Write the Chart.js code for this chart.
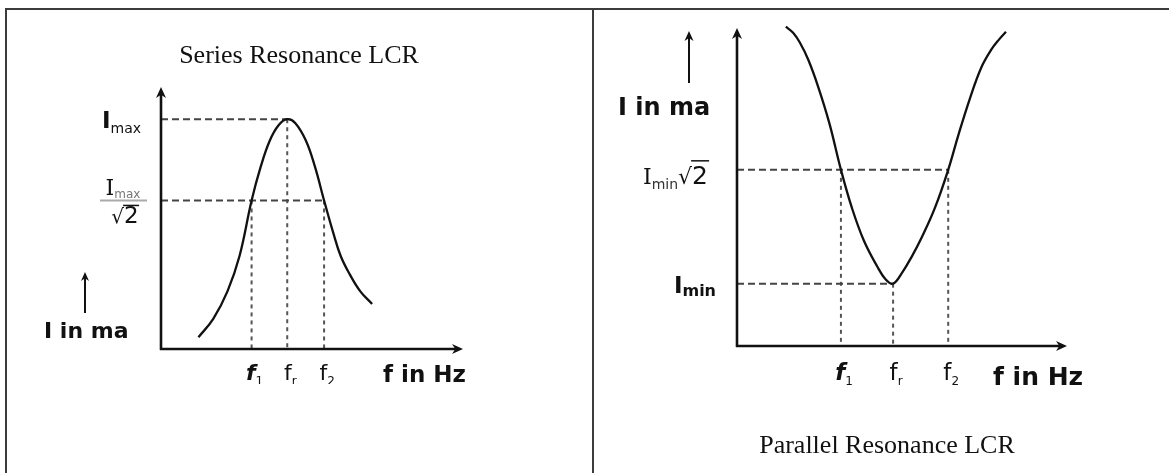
<!DOCTYPE html>
<html lang="en">
<head>
<meta charset="UTF-8">
<title>Series and Parallel Resonance LCR</title>
<script src="https://cdn.jsdelivr.net/npm/chart.js"></script>
<style>
  body { margin: 0; width: 1169px; height: 473px; overflow: hidden; background: #fff; position: relative; }
  .cell { position: absolute; top: 8px; height: 470px; border-top: 2px solid #3c3c3c; }
  #cellL { left: 5px; width: 585px; border-left: 2px solid #3c3c3c; border-right: 2px solid #3c3c3c; }
  #cellR { left: 594px; width: 600px; }
  canvas { position: absolute; top: 0; }
  #seriesChart { left: 0; }
  #parallelChart { left: 592px; }
</style>
</head>
<body>
<div class="cell" id="cellL"></div>
<div class="cell" id="cellR"></div>
<canvas id="seriesChart" width="592" height="473"></canvas>
<canvas id="parallelChart" width="577" height="473"></canvas>

<script>
// Series resonance (left) - arbitrary units, axes 0..10
const seriesFreq    = [1.24, 1.73, 2.20, 2.60, 3.00, 3.30, 3.60, 3.90, 4.18, 4.45, 4.80, 5.10, 5.40, 5.70, 5.95, 6.25, 6.60, 6.99];
const seriesCurrent = [0.45, 1.15, 2.20, 3.55, 5.67, 6.95, 7.95, 8.55, 8.77, 8.62, 7.95, 6.95, 5.67, 4.45, 3.55, 2.85, 2.20, 1.72];
const seriesTicks = [3.00, 4.18, 5.40];        // f1, fr, f2
const seriesTickSubs = ['1', 'r', '2'];
const seriesTickTops = [5.67, 8.77, 5.67];     // where each dashed drop line starts
const seriesLevels = [8.77, 5.67];             // Imax, Imax/√2
const seriesLevelReach = [4.18, 5.40];         // dashed level line runs to this frequency

// Parallel resonance (right)
const parallelFreq    = [1.48, 1.70, 1.90, 2.16, 2.46, 2.80, 3.15, 3.48, 3.85, 4.25, 4.50, 4.73, 5.00, 5.30, 5.60, 6.00, 6.40, 6.71, 7.06, 7.40, 7.70, 7.95, 8.15];
const parallelCurrent = [10.04, 9.85, 9.55, 9.00, 8.15, 7.00, 5.54, 4.35, 3.30, 2.50, 2.10, 1.96, 2.30, 2.82, 3.42, 4.35, 5.54, 6.64, 7.79, 8.75, 9.31, 9.65, 9.88];
const parallelTicks = [3.15, 4.73, 6.40];      // f1, fr, f2
const parallelTickSubs = ['1', 'r', '2'];
const parallelTickTops = [5.54, 1.96, 5.54];
const parallelLevels = [5.54, 1.96];           // Imin√2, Imin
const parallelLevelReach = [6.40, 4.73];

const INK = '#111';
const SANS = '"DejaVu Sans", Verdana, sans-serif';
const SERIF = '"Liberation Serif", "Times New Roman", serif';

function toPoints(xs, ys) {
    return xs.map((x, i) => ({ x: x, y: ys[i] }));
}

function buildDatasets(freq, current, ticks, tickTops, levels, reach) {
    const sets = [{
        data: toPoints(freq, current),
        showLine: true,
        borderColor: INK,
        borderWidth: 2.3,
        pointRadius: 0,
        tension: 0.4,
        clip: false
    }];
    levels.forEach((lv, i) => {
        sets.push({
            data: [{ x: 0, y: lv }, { x: reach[i], y: lv }],
            showLine: true, borderColor: '#444', borderWidth: 2,
            borderDash: [7, 4], pointRadius: 0
        });
    });
    ticks.forEach((f, i) => {
        sets.push({
            data: [{ x: f, y: tickTops[i] }, { x: f, y: 0 }],
            showLine: true, borderColor: '#555', borderWidth: 2,
            borderDash: [4, 4], pointRadius: 0
        });
    });
    return sets;
}

function arrow(ctx, x0, y0, x1, y1, len, half, width) {
    const a = Math.atan2(y1 - y0, x1 - x0);
    ctx.save();
    ctx.strokeStyle = INK;
    ctx.fillStyle = INK;
    ctx.lineWidth = width;
    ctx.beginPath();
    ctx.moveTo(x0, y0);
    ctx.lineTo(x1 - Math.cos(a) * len * 0.6, y1 - Math.sin(a) * len * 0.6);
    ctx.stroke();
    ctx.beginPath();
    ctx.moveTo(x1, y1);
    ctx.lineTo(x1 - Math.cos(a) * len - Math.sin(a) * half, y1 - Math.sin(a) * len + Math.cos(a) * half);
    ctx.lineTo(x1 - Math.cos(a) * len * 0.7, y1 - Math.sin(a) * len * 0.7);
    ctx.lineTo(x1 - Math.cos(a) * len + Math.sin(a) * half, y1 - Math.sin(a) * len - Math.cos(a) * half);
    ctx.closePath();
    ctx.fill();
    ctx.restore();
}

// text made of pieces (base + subscript ...), returns left x of each piece
function rich(ctx, parts, x, y, align) {
    let w = 0;
    parts.forEach(p => { ctx.font = p.font; p.w = ctx.measureText(p.t).width; w += p.w + (p.gap || 0); });
    let cx = align === 'right' ? x - w : align === 'center' ? x - w / 2 : x;
    const lefts = [];
    parts.forEach(p => {
        ctx.font = p.font;
        ctx.fillStyle = p.color || INK;
        lefts.push(cx);
        ctx.fillText(p.t, cx, y + (p.dy || 0));
        cx += p.w + (p.gap || 0);
    });
    return lefts;
}

function drawAxes(chart) {
    const ctx = chart.ctx;
    const xs = chart.scales.x, ys = chart.scales.y;
    const x0 = xs.getPixelForValue(0), y0 = ys.getPixelForValue(0);
    arrow(ctx, x0, y0 + 1, x0, ys.getPixelForValue(10), 11, 5, 2.6);
    arrow(ctx, x0 - 1, y0, xs.getPixelForValue(10), y0, 11, 5, 2.6);
}

function drawFreqLabels(chart, ticks, subs, base, fsize) {
    const ctx = chart.ctx, xs = chart.scales.x;
    ctx.save();
    ctx.textBaseline = 'alphabetic';
    ticks.forEach((f, i) => {
        rich(ctx, [
            { t: 'f', font: (i === 0 ? 'bold italic ' : '') + fsize + 'px ' + SANS },
            { t: subs[i], font: '12px ' + SANS, dy: 5, gap: 0 }
        ], xs.getPixelForValue(f) + 3, base, 'center');
    });
    ctx.restore();
}

const seriesDecor = {
    id: 'seriesDecor',
    afterDraw(chart) {
        const ctx = chart.ctx, ca = chart.chartArea;
        const ys = chart.scales.y;
        drawAxes(chart);
        ctx.save();
        ctx.textBaseline = 'alphabetic';
        ctx.fillStyle = INK;

        ctx.font = '26px ' + SERIF;
        ctx.textAlign = 'center';
        ctx.fillText('Series Resonance LCR', 299, 63);
        ctx.textAlign = 'left';

        // Imax
        const yMax = ys.getPixelForValue(seriesLevels[0]);
        rich(ctx, [
            { t: 'I', font: 'bold 23px ' + SANS },
            { t: 'max', font: '14px ' + SANS, dy: 5 }
        ], ca.left - 20, yMax + 9, 'right');

        // Imax / √2
        const yHalf = ys.getPixelForValue(seriesLevels[1]);
        const fx = ca.left - 38;
        rich(ctx, [
            { t: 'I', font: '22px "DejaVu Serif", serif' },
            { t: 'max', font: '12px ' + SANS, dy: 3, color: '#777' }
        ], fx, yHalf - 5, 'center');
        ctx.strokeStyle = '#aaa';
        ctx.lineWidth = 2;
        ctx.beginPath();
        ctx.moveTo(fx - 23, yHalf);
        ctx.lineTo(fx + 24, yHalf);
        ctx.stroke();
        const sq = rich(ctx, [
            { t: '\u221A', font: '20px ' + SANS },
            { t: '2', font: '23px ' + SANS }
        ], fx + 2, yHalf + 23, 'center');
        ctx.strokeStyle = INK;
        ctx.lineWidth = 1.5;
        ctx.beginPath();
        ctx.moveTo(sq[1] - 1, yHalf + 5);
        ctx.lineTo(sq[1] + 15, yHalf + 5);
        ctx.stroke();

        // y label and its arrow
        ctx.font = 'bold 22px ' + SANS;
        ctx.fillText('I in ma', ca.left - 117, ca.bottom - 11);
        arrow(ctx, ca.left - 76, ca.bottom - 36, ca.left - 76, ca.bottom - 77, 9, 4, 2);

        // x label
        ctx.font = 'bold 23px ' + SANS;
        ctx.fillText('f in Hz', ca.left + 222, ca.bottom + 33);

        // f1 fr f2, cut at the bottom like the source
        ctx.beginPath();
        ctx.rect(ca.left, ca.bottom, ca.right - ca.left, 35);
        ctx.clip();
        drawFreqLabels(chart, seriesTicks, seriesTickSubs, ca.bottom + 31, 22);
        ctx.restore();
    }
};

const parallelDecor = {
    id: 'parallelDecor',
    afterDraw(chart) {
        const ctx = chart.ctx, ca = chart.chartArea;
        const ys = chart.scales.y;
        drawAxes(chart);
        ctx.save();
        ctx.textBaseline = 'alphabetic';
        ctx.fillStyle = INK;

        ctx.font = '26px ' + SERIF;
        ctx.textAlign = 'center';
        ctx.fillText('Parallel Resonance LCR', 295, 453);
        ctx.textAlign = 'left';

        // y label and its arrow
        ctx.font = 'bold 24px ' + SANS;
        ctx.fillText('I in ma', ca.left - 119, ca.top + 87);
        arrow(ctx, ca.left - 48, ca.top + 55, ca.left - 48, ca.top + 3, 10, 4.5, 2);

        // Imin √2
        const yR = ys.getPixelForValue(parallelLevels[0]);
        const p = rich(ctx, [
            { t: 'I', font: '22px "DejaVu Serif", serif' },
            { t: 'min', font: '14px ' + SANS, dy: 5, color: '#333' },
            { t: '\u221A', font: '22px ' + SANS },
            { t: '2', font: '25px ' + SANS }
        ], ca.left - 29, yR + 14, 'right');
        ctx.strokeStyle = INK;
        ctx.lineWidth = 1.5;
        ctx.beginPath();
        ctx.moveTo(p[3] - 1, yR - 9);
        ctx.lineTo(p[3] + 17, yR - 9);
        ctx.stroke();

        // Imin
        const yMin = ys.getPixelForValue(parallelLevels[1]);
        rich(ctx, [
            { t: 'I', font: 'bold 23px ' + SANS },
            { t: 'min', font: 'bold 16px ' + SANS, dy: 3 }
        ], ca.left - 21, yMin + 9, 'right');

        // x label and frequency marks
        ctx.font = 'bold 25px ' + SANS;
        ctx.fillText('f in Hz', ca.left + 256, ca.bottom + 39);
        drawFreqLabels(chart, parallelTicks, parallelTickSubs, ca.bottom + 34, 23);
        ctx.restore();
    }
};

function makeChart(id, datasets, padding, decor) {
    return new Chart(document.getElementById(id), {
        type: 'scatter',
        data: { datasets: datasets },
        options: {
            responsive: false,
            animation: false,
            events: [],
            layout: { padding: padding },
            scales: {
                x: { type: 'linear', min: 0, max: 10, display: false },
                y: { type: 'linear', min: 0, max: 10, display: false }
            },
            plugins: { legend: { display: false }, tooltip: { enabled: false } }
        },
        plugins: [decor]
    });
}

makeChart('seriesChart',
    buildDatasets(seriesFreq, seriesCurrent, seriesTicks, seriesTickTops, seriesLevels, seriesLevelReach),
    { left: 161, top: 87, right: 129, bottom: 124 }, seriesDecor);

makeChart('parallelChart',
    buildDatasets(parallelFreq, parallelCurrent, parallelTicks, parallelTickTops, parallelLevels, parallelLevelReach),
    { left: 145, top: 28, right: 102, bottom: 127 }, parallelDecor);
</script>
</body>
</html>
